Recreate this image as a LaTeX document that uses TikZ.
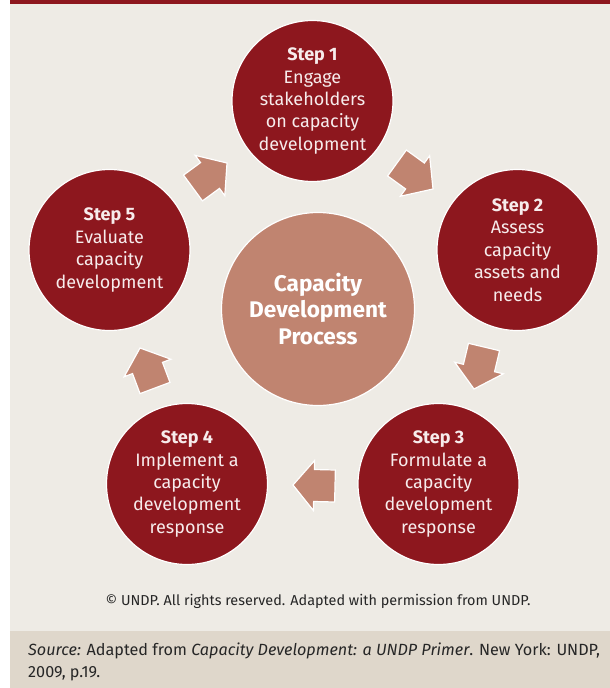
\documentclass[tikz,border=0pt]{standalone}
\usepackage{fontspec}
\setmainfont{Fira Sans}
\usetikzlibrary{calc}
\definecolor{cdred}{HTML}{8D171E}
\definecolor{cdsalmon}{HTML}{C08470}
\definecolor{cdbg}{HTML}{EEEBE5}
\definecolor{cdband}{HTML}{DFD7CB}
\definecolor{cdtext}{HTML}{F7ECEC}
\tikzset{
  stepc/.style={circle, fill=cdred, draw=white, line width=1.2pt, minimum size=161pt, inner sep=0pt,
    text=cdtext, align=center, font=\fontsize{18}{22.4}\selectfont},
  centerc/.style={circle, fill=cdsalmon, draw=white, line width=1.2pt, minimum size=193pt, inner sep=0pt,
    text=white, align=center, font=\bfseries\fontsize{22.6}{26.6}\selectfont},
  blockarr/.style={fill=cdsalmon, draw=white, line width=1.2pt, line join=miter}
}
\newcommand{\cdarrow}[2]{%
  \path[blockarr]
    ($(#1)!16pt!90:(#2)$) --
    ($($(#1)!0.5!(#2)$)!16pt!90:(#2)$) --
    ($($(#1)!0.5!(#2)$)!25pt!90:(#2)$) --
    (#2) --
    ($($(#1)!0.5!(#2)$)!25pt!-90:(#2)$) --
    ($($(#1)!0.5!(#2)$)!16pt!-90:(#2)$) --
    ($(#1)!16pt!-90:(#2)$) -- cycle;}
\begin{document}
\begin{tikzpicture}[x=1pt,y=-1pt]
\useasboundingbox (0,0) rectangle (610,688);
\fill[white] (0,0) rectangle (610,688);
\fill[cdbg] (10,0) rectangle (610,631);
\fill[cdred] (10,0) rectangle (610,4);
\fill[cdband] (10,631) rectangle (610,688);

\node[stepc] (s1) at (312.5,101) {\textbf{Step 1}\\Engage\\stakeholders\\on capacity\\development};
\node[stepc] (s2) at (517.5,250) {\textbf{Step 2}\\Assess\\capacity\\assets and\\needs};
\node[stepc] (s3) at (438.5,484) {\textbf{Step 3}\\Formulate a\\capacity\\development\\response};
\node[stepc] (s4) at (187,484) {\textbf{Step 4}\\Implement a\\capacity\\development\\response};
\node[stepc] (s5) at (109.5,250) {\textbf{Step 5}\\Evaluate\\capacity\\development};
\node[centerc] (c) at (318,309) {Capacity\\Development\\Process};

\coordinate (a1b) at (193,188); \coordinate (a1t) at (227,163);
\coordinate (a2b) at (397,163); \coordinate (a2t) at (433,189);
\coordinate (a3b) at (484,347); \coordinate (a3t) at (474,389);
\coordinate (a4b) at (335,486); \coordinate (a4t) at (293,485);
\coordinate (a5b) at (155,388); \coordinate (a5t) at (140,348);
\cdarrow{a1b}{a1t}
\cdarrow{a2b}{a2t}
\cdarrow{a3b}{a3t}
\cdarrow{a4b}{a4t}
\cdarrow{a5b}{a5t}

\node[font=\fontsize{14.4}{16}\selectfont, text=black!85] (copy) at (318,601) {© UNDP. All rights reserved. Adapted with permission from UNDP.};
\node[font=\fontsize{16.2}{22}\selectfont, text=black!85, align=left, anchor=north west, inner sep=0pt] (src) at (28,643)
  {\textit{Source:} Adapted from \textit{Capacity Development: a UNDP Primer}. New York: UNDP,\\2009, p.19.};
\end{tikzpicture}
\end{document}
